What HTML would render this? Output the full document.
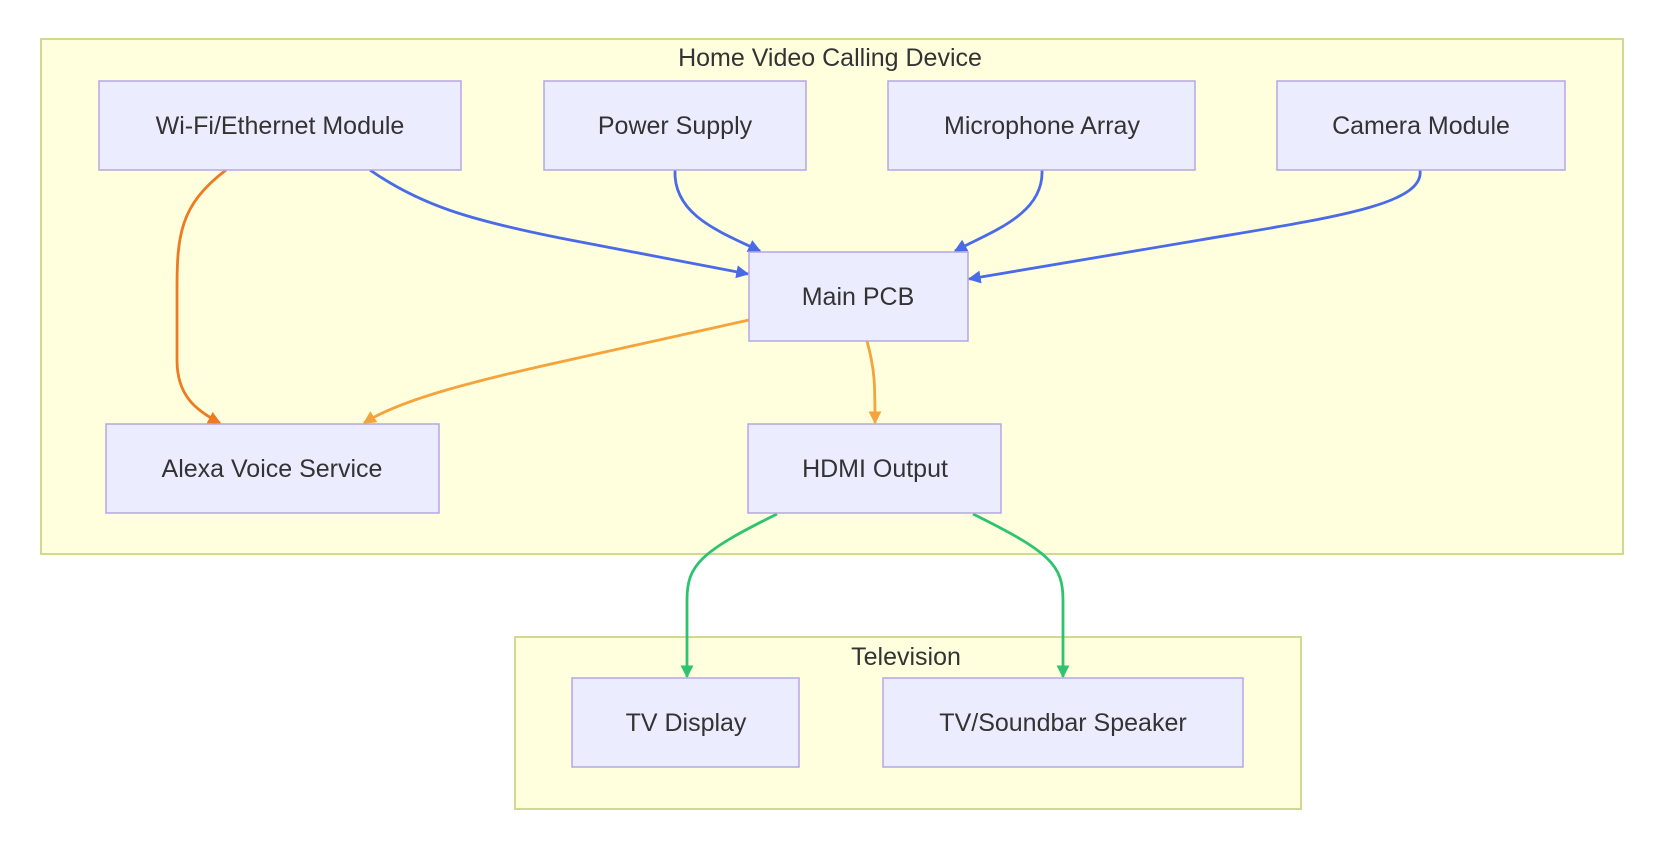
<!DOCTYPE html>
<html><head><meta charset="utf-8"><style>
html,body{margin:0;padding:0;background:#fff;}
svg text{font-family:"Liberation Sans",Arial,sans-serif;fill:#333;}
</style></head><body>
<svg width="1654" height="842" viewBox="0 0 1654 842" xmlns="http://www.w3.org/2000/svg">
<defs>
<marker id="ab" viewBox="0 0 10 10" refX="9" refY="5" markerWidth="13" markerHeight="13" orient="auto" markerUnits="userSpaceOnUse"><path d="M0,0 L10,5 L0,10 z" fill="#4a6ae8"/></marker>
<marker id="ao" viewBox="0 0 10 10" refX="9" refY="5" markerWidth="13" markerHeight="13" orient="auto" markerUnits="userSpaceOnUse"><path d="M0,0 L10,5 L0,10 z" fill="#f07a20"/></marker>
<marker id="ao2" viewBox="0 0 10 10" refX="9" refY="5" markerWidth="13" markerHeight="13" orient="auto" markerUnits="userSpaceOnUse"><path d="M0,0 L10,5 L0,10 z" fill="#f5a33a"/></marker>
<marker id="ag" viewBox="0 0 10 10" refX="9" refY="5" markerWidth="13" markerHeight="13" orient="auto" markerUnits="userSpaceOnUse"><path d="M0,0 L10,5 L0,10 z" fill="#2ec46e"/></marker>
</defs>
<rect x="41" y="39" width="1582" height="515" fill="#ffffde" stroke="#cfd98f" stroke-width="2"/>
<text x="830" y="66" font-size="25" text-anchor="middle">Home Video Calling Device</text>
<rect x="515" y="637" width="786" height="172" fill="#ffffde" stroke="#cfd98f" stroke-width="2"/>
<text x="906" y="665" font-size="25" text-anchor="middle">Television</text>

<g fill="none" stroke-width="2.8">
<path d="M226,170 C180,205 177,235 177,290 L177,360 C177,395 195,410 220,423" stroke="#f07a20" marker-end="url(#ao)"/>
<path d="M370,170 C420,205 470,220 560,238 L748,274" stroke="#4a6ae8" marker-end="url(#ab)"/>
<path d="M675,170 C673,215 720,232 760,251" stroke="#4a6ae8" marker-end="url(#ab)"/>
<path d="M1042,170 C1044,215 990,232 955,251" stroke="#4a6ae8" marker-end="url(#ab)"/>
<path d="M1420,170 C1425,205 1330,218 1200,240 L969,279" stroke="#4a6ae8" marker-end="url(#ab)"/>
<path d="M749,320 L560,362 C470,382 400,400 364,423" stroke="#f5a33a" marker-end="url(#ao2)"/>
<path d="M867,341 C875,370 875,385 875,423" stroke="#f5a33a" marker-end="url(#ao2)"/>
<path d="M777,514 C700,552 687,565 687,600 L687,677" stroke="#2ec46e" marker-end="url(#ag)"/>
<path d="M973,514 C1050,552 1063,565 1063,600 L1063,677" stroke="#2ec46e" marker-end="url(#ag)"/>
</g>

<g fill="#ececff" stroke="#b3a6e6" stroke-width="1.5">
<rect x="99" y="81" width="362" height="89"/>
<rect x="544" y="81" width="262" height="89"/>
<rect x="888" y="81" width="307" height="89"/>
<rect x="1277" y="81" width="288" height="89"/>
<rect x="749" y="252" width="219" height="89"/>
<rect x="106" y="424" width="333" height="89"/>
<rect x="748" y="424" width="253" height="89"/>
<rect x="572" y="678" width="227" height="89"/>
<rect x="883" y="678" width="360" height="89"/>
</g>
<g font-size="25" text-anchor="middle">
<text x="280" y="134">Wi-Fi/Ethernet Module</text>
<text x="675" y="134">Power Supply</text>
<text x="1042" y="134">Microphone Array</text>
<text x="1421" y="134">Camera Module</text>
<text x="858" y="305">Main PCB</text>
<text x="272" y="477">Alexa Voice Service</text>
<text x="875" y="477">HDMI Output</text>
<text x="686" y="731">TV Display</text>
<text x="1063" y="731">TV/Soundbar Speaker</text>
</g>
</svg>
</body></html>
